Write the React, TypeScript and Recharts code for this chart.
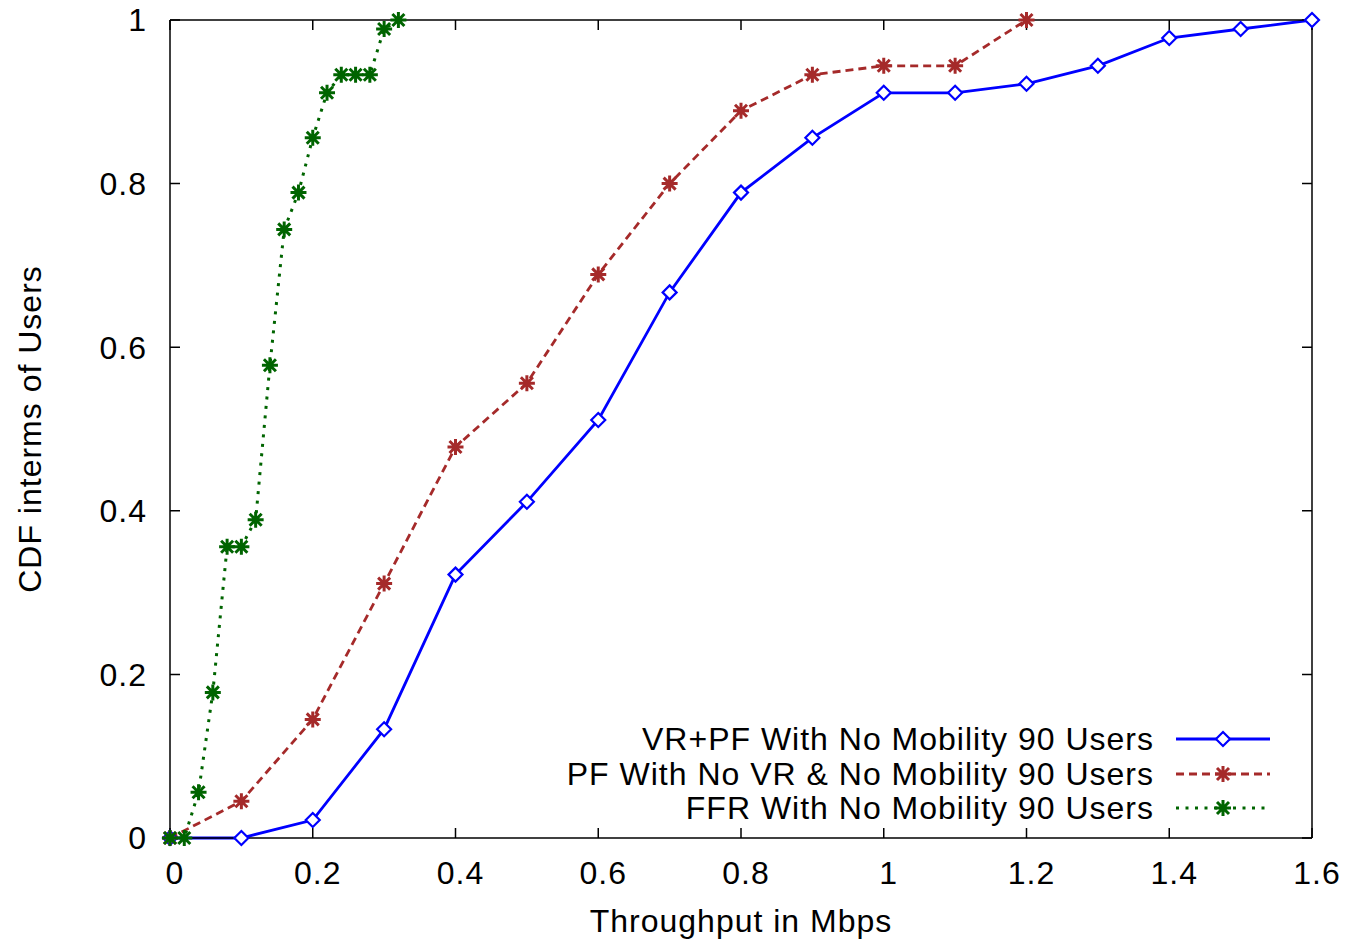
import { LineChart, Line, XAxis, YAxis, Legend, CartesianGrid } from 'recharts';

// Throughput values (Mbps) and cumulative share of users for each scheme
const VRPF_X = [0, 0.1, 0.2, 0.3, 0.4, 0.5, 0.6, 0.7, 0.8, 0.9, 1.0, 1.1, 1.2, 1.3, 1.4, 1.5, 1.6];
const VRPF_CDF = [0, 0, 0.022, 0.133, 0.322, 0.411, 0.511, 0.667, 0.789, 0.856, 0.911, 0.911, 0.922, 0.944, 0.978, 0.989, 1];

const PF_X = [0, 0.1, 0.2, 0.3, 0.4, 0.5, 0.6, 0.7, 0.8, 0.9, 1.0, 1.1, 1.2];
const PF_CDF = [0, 0.045, 0.145, 0.311, 0.478, 0.556, 0.689, 0.8, 0.889, 0.933, 0.944, 0.944, 1];

const FFR_X = [0, 0.02, 0.04, 0.06, 0.08, 0.1, 0.12, 0.14, 0.16, 0.18, 0.2, 0.22, 0.24, 0.26, 0.28, 0.3, 0.32];
const FFR_CDF = [0, 0, 0.056, 0.178, 0.356, 0.356, 0.389, 0.578, 0.744, 0.789, 0.856, 0.911, 0.933, 0.933, 0.933, 0.989, 1];

const X_TICKS = [0, 0.2, 0.4, 0.6, 0.8, 1, 1.2, 1.4, 1.6];
const Y_TICKS = [0, 0.2, 0.4, 0.6, 0.8, 1];

const FONT = '"Liberation Sans", Arial, Helvetica, sans-serif';
const FRAME = { stroke: '#000', strokeWidth: 1.5 };
const TICK_LEN = 10;

type MarkerKind = 'diamond' | 'asterisk';

interface Series {
  name: string;
  data: { x: number; y: number }[];
  color: string;
  width: number;
  dash?: string;
  marker: MarkerKind;
}

const toPoints = (xs: number[], ys: number[]) => xs.map((x, i) => ({ x, y: ys[i] }));

const SERIES: Series[] = [
  { name: 'VR+PF With No Mobility 90 Users', data: toPoints(VRPF_X, VRPF_CDF), color: '#0000ff', width: 2.8, marker: 'diamond' },
  { name: 'PF With No VR & No Mobility 90 Users', data: toPoints(PF_X, PF_CDF), color: '#a52a2a', width: 2.8, dash: '8 5', marker: 'asterisk' },
  { name: 'FFR With No Mobility 90 Users', data: toPoints(FFR_X, FFR_CDF), color: '#006400', width: 3, dash: '3 6.5', marker: 'asterisk' },
];

function Marker({ kind, cx, cy, color }: { kind: MarkerKind; cx: number; cy: number; color: string }) {
  if (kind === 'diamond') {
    const r = 7;
    return (
      <path
        d={`M${cx},${cy - r}L${cx + r},${cy}L${cx},${cy + r}L${cx - r},${cy}Z`}
        fill="#fff"
        stroke={color}
        strokeWidth={2.2}
      />
    );
  }
  const r = 8;
  const d = 6;
  return (
    <path
      d={`M${cx - r},${cy}H${cx + r}M${cx},${cy - r}V${cy + r}M${cx - d},${cy - d}L${cx + d},${cy + d}M${cx - d},${cy + d}L${cx + d},${cy - d}`}
      fill="none"
      stroke={color}
      strokeWidth={3}
    />
  );
}

// grid lines are cut down to short inward ticks at both ends of the frame
function EdgeTicks(props: any) {
  const { x1, y1, x2, y2, index } = props;
  let d: string;
  if (y1 === y2) {
    const left = Math.min(x1, x2);
    const right = Math.max(x1, x2);
    d = `M${left},${y1}H${left + TICK_LEN}M${right - TICK_LEN},${y1}H${right}`;
  } else {
    const top = Math.min(y1, y2);
    const bottom = Math.max(y1, y2);
    d = `M${x1},${top}V${top + TICK_LEN}M${x1},${bottom - TICK_LEN}V${bottom}`;
  }
  return <path key={`edge-${y1 === y2 ? 'h' : 'v'}-${index}`} d={d} stroke="#000" strokeWidth={1.5} fill="none" />;
}

function LegendBox({ payload }: any) {
  const shown = new Set((payload || []).map((entry: any) => entry.value));
  return (
    <div style={{ display: 'flex', flexDirection: 'column', alignItems: 'flex-end', fontFamily: FONT }}>
      {SERIES.filter((s) => shown.has(s.name)).map((s) => (
        <div key={s.name} style={{ display: 'flex', alignItems: 'center', height: 34.5 }}>
          <span style={{ fontSize: 32, lineHeight: '34.5px', color: '#000', letterSpacing: 1 }}>{s.name}</span>
          <svg width={94} height={20} style={{ marginLeft: 22 }}>
            <line x1={0} x2={94} y1={10} y2={10} stroke={s.color} strokeWidth={s.width} strokeDasharray={s.dash} />
            <Marker kind={s.marker} cx={47} cy={10} color={s.color} />
          </svg>
        </div>
      ))}
    </div>
  );
}

export default function App() {
  return (
    <div style={{ position: 'absolute', left: 0, top: 0, background: '#fff', fontFamily: FONT, letterSpacing: 1 }}>
      <LineChart width={1345} height={943} margin={{ top: 20, right: 33, left: 0, bottom: 0 }}>
        <CartesianGrid horizontal={EdgeTicks} vertical={EdgeTicks} />
        <XAxis
          dataKey="x"
          type="number"
          domain={[0, 1.6]}
          ticks={X_TICKS}
          interval={0}
          height={105}
          axisLine={FRAME}
          tickLine={false}
          tickMargin={17}
          tick={{ fill: '#000', fontSize: 32, dx: 5 }}
          label={{ value: 'Throughput in Mbps', position: 'insideBottom', offset: 11, fill: '#000', fontSize: 32 }}
        />
        <XAxis xAxisId="top" orientation="top" type="number" domain={[0, 1.6]} height={1}
          mirror axisLine={FRAME} tick={false} tickLine={false} />
        <YAxis
          type="number"
          domain={[0, 1]}
          ticks={Y_TICKS}
          interval={0}
          width={170}
          axisLine={FRAME}
          tickLine={false}
          tickMargin={17}
          tick={{ fill: '#000', fontSize: 32 }}
          label={{
            value: 'CDF interms of Users',
            angle: -90,
            position: 'insideLeft',
            offset: 30,
            fill: '#000',
            fontSize: 32,
            style: { textAnchor: 'middle' },
          }}
        />
        <YAxis yAxisId="right" orientation="right" type="number" domain={[0, 1]} width={1}
          mirror axisLine={FRAME} tick={false} tickLine={false} />
        <Legend
          layout="vertical"
          align="center"
          verticalAlign="middle"
          content={<LegendBox />}
          wrapperStyle={{ left: 0, top: 722, width: 1270 }}
        />
        {SERIES.map((s) => (
          <Line
            key={s.name}
            name={s.name}
            data={s.data}
            dataKey="y"
            type="linear"
            stroke={s.color}
            strokeWidth={s.width}
            strokeDasharray={s.dash}
            dot={(p: any) => <Marker key={`${s.name}-${p.index}`} kind={s.marker} cx={p.cx} cy={p.cy} color={s.color} />}
            activeDot={false}
            isAnimationActive={false}
          />
        ))}
      </LineChart>
    </div>
  );
}
